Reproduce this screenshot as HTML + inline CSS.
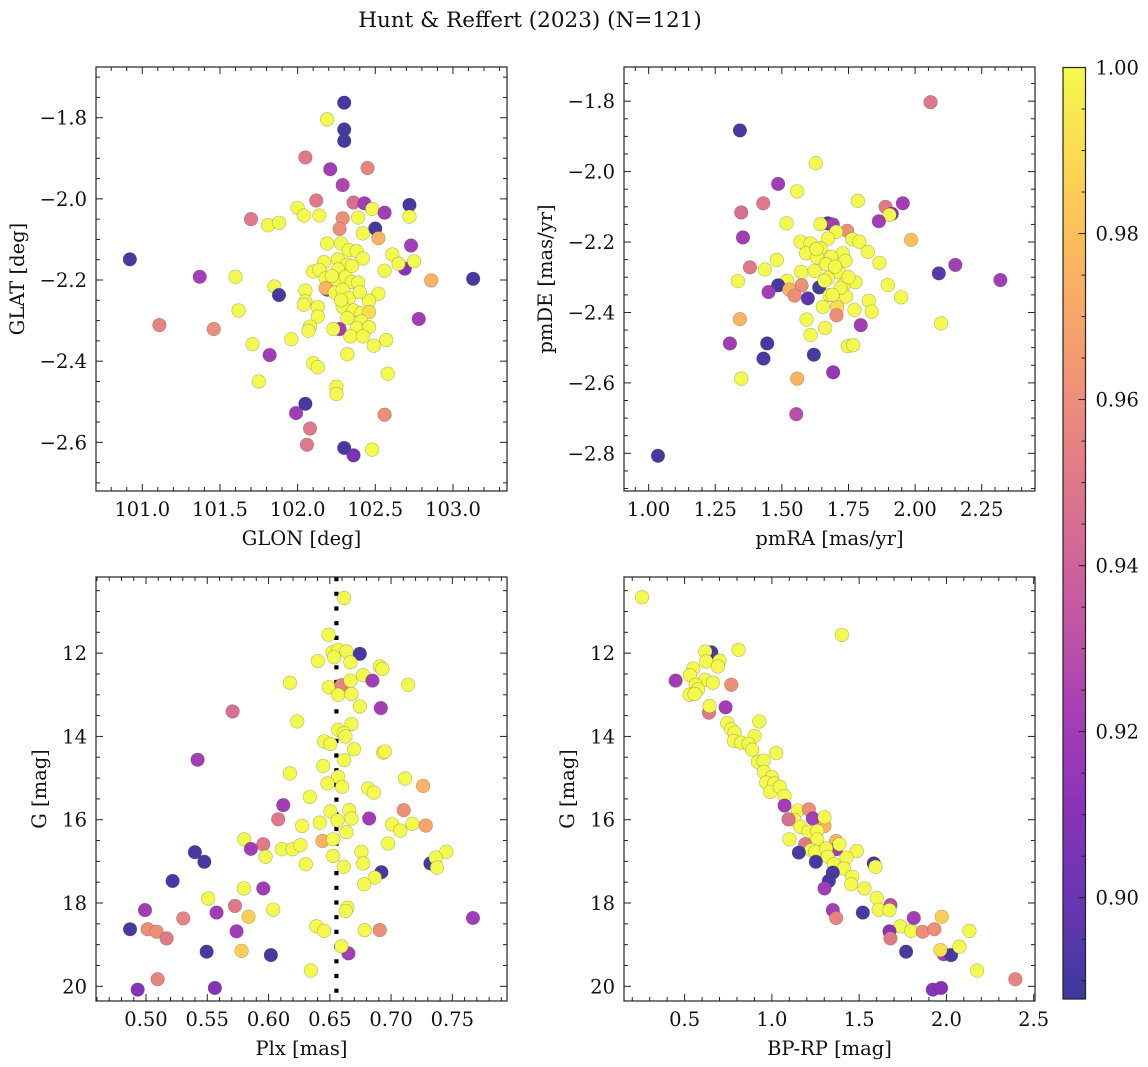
<!DOCTYPE html>
<html><head><meta charset="utf-8"><style>
html,body{margin:0;padding:0;background:#fff;}
svg{display:block;font-family:"DejaVu Serif","Liberation Serif",serif;}
</style></head><body>
<svg id="fig" width="1148" height="1067" viewBox="0 0 1148 1067" xmlns="http://www.w3.org/2000/svg">
<text x="530" y="27" text-anchor="middle" font-size="21.5" fill="#111">Hunt &amp; Reffert (2023) (N=121)</text>
</svg>
<script>
// ---------- Panel 1: GLON vs GLAT ----------
const p1Glon=[102.30,102.19,102.30,102.30,102.05,102.21,102.45,102.29,102.12,102.36,102.43,102.72,102.48,102.56,102.00,102.04,102.14,102.29,102.39,102.72,101.70,101.81,101.88,102.27,102.50,102.42,102.52,102.19,102.28,102.73,100.92,102.33,102.38,102.42,102.26,102.17,102.32,102.61,102.69,102.65,102.75,102.56,102.10,102.14,102.26,101.37,101.60,102.86,103.13,102.18,102.26,102.31,102.35,102.39,102.19,102.18,102.24,102.29,102.05,101.85,101.88,102.52,102.46,102.33,102.05,102.04,102.13,102.29,102.36,102.41,102.46,102.13,101.62,102.32,102.41,102.38,102.46,102.78,101.11,101.46,102.27,102.08,102.07,102.23,102.34,102.42,101.96,102.57,102.49,101.71,101.82,102.32,102.10,102.13,102.58,101.75,102.25,102.25,102.05,101.99,102.56,102.08,102.06,102.30,102.36,102.48,102.35,102.22,102.40,102.28];
const p1Glat=[-1.763,-1.804,-1.829,-1.857,-1.898,-1.927,-1.924,-1.966,-2.004,-2.009,-2.011,-2.015,-2.025,-2.034,-2.022,-2.041,-2.041,-2.048,-2.046,-2.044,-2.050,-2.065,-2.059,-2.074,-2.073,-2.085,-2.097,-2.110,-2.110,-2.115,-2.149,-2.126,-2.129,-2.147,-2.149,-2.156,-2.162,-2.137,-2.172,-2.160,-2.154,-2.177,-2.179,-2.175,-2.174,-2.192,-2.192,-2.201,-2.197,-2.196,-2.200,-2.192,-2.205,-2.206,-2.224,-2.220,-2.231,-2.224,-2.226,-2.216,-2.237,-2.234,-2.251,-2.245,-2.253,-2.261,-2.266,-2.266,-2.275,-2.282,-2.279,-2.290,-2.275,-2.294,-2.302,-2.319,-2.316,-2.296,-2.311,-2.321,-2.321,-2.315,-2.325,-2.321,-2.339,-2.339,-2.346,-2.348,-2.362,-2.358,-2.385,-2.383,-2.405,-2.415,-2.431,-2.450,-2.463,-2.481,-2.505,-2.528,-2.532,-2.566,-2.606,-2.614,-2.632,-2.618,-2.165,-2.190,-2.230,-2.250];
const p1Prob=[0.89,1,0.89,0.89,0.95,0.92,0.955,0.925,0.95,0.945,0.92,0.89,1,0.92,1,1,1,0.96,1,1,0.95,1,1,0.96,0.89,1,0.975,1,1,0.92,0.89,1,1,1,1,1,1,1,0.91,1,1,1,1,1,1,0.92,1,0.975,0.89,1,1,1,1,1,0.92,0.975,1,1,1,1,0.89,1,1,1,1,1,1,1,1,1,0.99,1,1,1,1,1,1,0.92,0.955,0.96,0.92,1,1,1,1,1,1,1,1,1,0.92,1,1,1,1,1,1,1,0.89,0.92,0.96,0.95,0.95,0.89,0.905,1,1,1,1,1];
const p1XTicks=[101.0,101.5,102.0,102.5,103.0];
const p1YTicks=[-1.8,-2.0,-2.2,-2.4,-2.6];

// ---------- Panel 2: pmRA vs pmDE ----------
const p2PmRA=[2.058,1.3425,1.6275,1.486,1.5575,1.43,1.785,1.889,1.954,1.3475,1.9125,1.904,1.864,1.5175,1.6725,1.691,1.645,1.745,1.704,1.354,1.6725,1.985,1.764,1.791,1.57,1.6075,1.645,1.591,1.8225,1.729,1.685,1.6325,1.7388,1.866,1.666,1.481,2.151,1.38,1.436,1.6225,1.5725,1.714,2.089,1.6725,1.735,1.776,2.32,1.335,1.52,1.486,1.5275,1.574,1.64,1.8975,1.45,1.5475,1.5975,1.679,1.741,1.9475,1.8263,1.6538,1.7075,1.7725,1.8375,1.705,1.3425,1.5925,2.0975,1.796,1.6625,1.6075,1.305,1.445,1.7475,1.7675,1.62,1.431,1.6925,1.3475,1.5575,1.554,1.035,1.70,1.66,1.72,1.63,1.69,1.75];
const p2PmDE=[-1.803,-1.883,-1.976,-2.035,-2.056,-2.090,-2.083,-2.100,-2.090,-2.116,-2.120,-2.123,-2.141,-2.147,-2.147,-2.150,-2.149,-2.168,-2.171,-2.187,-2.190,-2.194,-2.192,-2.199,-2.199,-2.204,-2.218,-2.232,-2.228,-2.232,-2.242,-2.244,-2.253,-2.259,-2.263,-2.251,-2.265,-2.272,-2.278,-2.282,-2.285,-2.285,-2.289,-2.303,-2.319,-2.314,-2.308,-2.311,-2.310,-2.323,-2.335,-2.323,-2.329,-2.322,-2.342,-2.352,-2.360,-2.351,-2.355,-2.357,-2.367,-2.384,-2.384,-2.393,-2.398,-2.408,-2.419,-2.420,-2.431,-2.436,-2.444,-2.464,-2.488,-2.488,-2.496,-2.493,-2.520,-2.531,-2.570,-2.588,-2.588,-2.689,-2.807,-2.27,-2.31,-2.33,-2.22,-2.35,-2.30];
const p2Prob=[0.95,0.89,1,0.92,1,0.95,1,0.95,0.92,0.945,0.91,1,0.92,1,0.89,0.92,1,0.96,1,0.92,1,0.98,1,1,1,1,1,1,1,1,1,1,1,1,1,1,0.92,0.95,1,1,1,1,0.895,1,1,1,0.92,1,1,0.89,0.975,0.96,0.89,1,0.92,0.96,0.895,1,1,1,1,1,0.99,1,1,0.96,0.975,1,1,0.92,1,1,0.92,0.89,1,1,0.89,0.89,0.915,1,0.975,0.93,0.89,1,1,1,1,1,1];
const p2XTicks=[1.00,1.25,1.50,1.75,2.00,2.25];
const p2YTicks=[-1.8,-2.0,-2.2,-2.4,-2.6,-2.8];

// ---------- Panel 3: Plx vs G ----------
const p3Plx=[0.6617,0.6489,0.6522,0.6568,0.6636,0.6535,0.6745,0.6402,0.6668,0.6908,0.6929,0.6772,0.6848,0.6174,0.6492,0.6595,0.6668,0.7139,0.6568,0.6677,0.5707,0.6745,0.6916,0.6234,0.6677,0.6568,0.6614,0.6628,0.6454,0.6505,0.6698,0.6935,0.6949,0.5421,0.6617,0.6446,0.6174,0.6568,0.6481,0.6601,0.7114,0.7261,0.6813,0.6859,0.6337,0.6120,0.6505,0.6658,0.6677,0.7103,0.6079,0.6563,0.6821,0.6418,0.6274,0.7008,0.7174,0.7076,0.7283,0.6636,0.5802,0.5957,0.5856,0.6440,0.6527,0.6109,0.6196,0.6261,0.6976,0.5976,0.5399,0.5476,0.6527,0.6758,0.6304,0.6614,0.6772,0.7451,0.7321,0.7364,0.7375,0.6921,0.6867,0.6780,0.5217,0.5957,0.5799,0.5508,0.5726,0.4992,0.5576,0.6038,0.6644,0.6630,0.5837,0.5304,0.7668,0.4870,0.5014,0.5087,0.5168,0.5739,0.6391,0.6454,0.6785,0.6908,0.6652,0.6595,0.5780,0.5495,0.6019,0.6345,0.5095,0.4932,0.5562];
const p3G=[10.677,11.559,11.98,11.92,11.96,12.10,12.016,12.19,12.22,12.32,12.38,12.53,12.66,12.71,12.82,12.77,12.66,12.76,13.00,12.98,13.40,13.28,13.32,13.64,13.70,13.84,13.92,14.00,14.12,14.18,14.31,14.39,14.36,14.56,14.57,14.71,14.89,14.97,15.13,15.21,15.01,15.19,15.25,15.35,15.45,15.65,15.80,15.77,15.97,15.77,15.99,16.02,15.97,16.07,16.15,16.11,16.10,16.26,16.14,16.30,16.47,16.59,16.70,16.51,16.47,16.71,16.71,16.61,16.57,16.89,16.78,17.01,16.87,16.77,17.07,17.13,17.05,16.77,17.05,16.91,17.15,17.26,17.39,17.55,17.47,17.65,17.65,17.89,18.07,18.17,18.23,18.16,18.11,18.19,18.33,18.37,18.36,18.63,18.63,18.69,18.85,18.68,18.56,18.67,18.65,18.65,19.21,19.04,19.15,19.17,19.25,19.62,19.83,20.08,20.04];
const p3Prob=[1,1,1,1,1,1,0.89,1,1,1,1,1,0.92,1,1,0.955,1,1,1,1,0.945,1,0.92,1,1,1,1,1,1,1,1,1,1,0.92,1,1,1,1,1,1,1,0.975,1,1,1,0.92,1,1,1,0.96,0.95,1,0.92,1,1,1,1,1,0.97,1,1,0.95,0.92,0.975,1,1,1,1,1,1,0.89,0.89,1,1,1,1,1,1,0.89,1,1,0.89,1,1,0.89,0.92,1,1,0.95,0.92,0.92,1,1,1,0.985,0.955,0.92,0.89,0.96,0.96,0.95,0.92,1,1,1,0.96,0.92,1,0.985,0.89,0.89,1,0.955,0.91,0.91];
const p3XTicks=[0.50,0.55,0.60,0.65,0.70,0.75];
const p3YTicks=[12,14,16,18,20];
const p3RefPlx=[0.6554];

// ---------- Panel 4: BP-RP vs G ----------
const p4BpRp=[0.2557,1.401,0.6527,0.6183,0.6240,0.7004,0.6908,0.8092,0.5496,0.5305,0.4485,0.6183,0.6622,0.7672,0.5630,0.5763,0.5286,0.5573,0.6393,0.6431,0.7347,0.9275,0.7443,0.7672,0.7863,0.7824,0.9008,0.8244,0.8664,0.8874,1.0248,0.9198,0.9523,0.9542,1.0,0.9676,1.0134,0.9905,1.0458,1.0725,1.0725,1.1489,1.1298,1.2118,1.2347,1.0954,1.3015,1.3015,1.1641,1.2099,1.2595,1.2595,1.1011,1.1908,1.3683,1.3683,1.3874,1.2252,1.2481,1.3110,1.3206,1.4866,1.4275,1.1546,1.2519,1.3550,1.4122,1.5840,1.5935,1.3492,1.3263,1.4599,1.4542,1.3015,1.5305,1.6011,1.6794,1.6126,1.6737,1.3492,1.3683,1.5210,1.7366,1.7977,1.8130,1.6737,1.6794,1.8645,1.9313,1.9733,2.1317,1.7691,1.9847,2.0267,1.9656,2.0744,2.1756,2.3950,1.9218,1.9695];
const p4G=[10.66,11.56,11.98,11.96,12.20,12.18,12.32,11.92,12.37,12.53,12.66,12.64,12.71,12.76,12.76,12.87,13.00,12.98,13.43,13.27,13.30,13.64,13.68,13.83,13.91,14.11,13.99,14.15,14.18,14.32,14.40,14.61,14.58,14.85,14.98,15.11,15.13,15.33,15.21,15.43,15.66,15.78,16.01,15.75,15.97,15.99,16.15,15.94,16.17,16.29,16.27,16.47,16.47,16.59,16.51,16.71,16.59,16.73,16.77,16.69,16.89,16.75,16.91,16.79,17.01,17.07,17.17,17.05,17.13,17.27,17.47,17.37,17.55,17.65,17.65,17.88,18.05,18.16,18.17,18.17,18.36,18.23,18.56,18.67,18.36,18.68,18.85,18.69,18.63,18.33,18.67,19.17,19.23,19.25,19.13,19.05,19.62,19.83,20.08,20.04];
const p4Prob=[1,1,0.89,1,1,1,1,1,1,1,0.92,1,1,0.96,1,1,1,1,0.95,1,0.92,1,1,1,1,1,1,1,1,1,1,1,1,1,1,1,1,1,1,1,0.92,1,1,0.96,0.92,0.945,0.975,1,1,1,1,1,1,0.95,0.975,0.92,1,1,1,1,1,1,1,0.89,0.89,1,1,0.89,1,0.89,0.89,1,1,0.92,1,1,0.93,1,1,0.92,0.955,0.89,1,1,0.92,0.91,0.95,0.96,0.96,0.985,1,0.89,0.92,0.89,0.99,1,1,0.955,0.91,0.91];
const p4XTicks=[0.5,1.0,1.5,2.0,2.5];
const p4YTicks=[12,14,16,18,20];

// ---------- Colorbar ----------
const cbTicks=[0.90,0.92,0.94,0.96,0.98,1.00];
const cbRange=[0.8878,1.0];

const FS=19.5;
const NS="http://www.w3.org/2000/svg";
const svg=document.getElementById('fig');
function mk(tag,attrs,parent){const e=document.createElementNS(NS,tag);for(const k in attrs)e.setAttribute(k,attrs[k]);(parent||svg).appendChild(e);return e;}

const plasma=[[13,8,135],[65,4,157],[106,0,168],[143,13,164],[177,42,144],[204,71,120],[225,100,98],[242,132,75],[252,166,54],[252,206,37],[240,249,33]];
function cmap(p){
  let t=(p-cbRange[0])/(cbRange[1]-cbRange[0]);t=Math.max(0,Math.min(1,t));
  const f=t*10,i=Math.min(9,Math.floor(f)),r=f-i;
  const c=plasma[i].map((v,k)=>v+(plasma[i+1][k]-v)*r);
  const a=0.8;
  return 'rgb('+c.map(v=>Math.round(a*v+(1-a)*255)).join(',')+')';
}
function fmt(v,d){const s=v.toFixed(d);return s.replace('-','\u2212');}

function panel(o){
  const g=mk('g',{});
  
  
  const sx=v=>o.x0+(v-o.xd[0])/(o.xd[1]-o.xd[0])*(o.x1-o.x0);
  const sy=v=>o.y1-(v-o.yd[0])/(o.yd[1]-o.yd[0])*(o.y1-o.y0);
  if(o.vlines){o.vlines.forEach(v=>{
    const l=mk('line',{x1:sx(v),x2:sx(v),y1:o.y0,y2:o.y1,stroke:'#000','stroke-width':4.2,'stroke-dasharray':'4.2 10.5'},g);
    
    
  });}
  for(let i=0;i<o.xs.length;i++){
    const c=mk('circle',{cx:sx(o.xs[i]),cy:sy(o.ys[i]),r:6.8,fill:cmap(o.ps[i]),stroke:'rgba(60,60,30,0.35)','stroke-width':0.6},g);
    
    
  }
  const fr=mk('rect',{x:o.x0,y:o.y0,width:o.x1-o.x0,height:o.y1-o.y0,fill:'none',stroke:'#222','stroke-width':1.2},g);
  
  
  const tk=(x1,y1,x2,y2)=>mk('line',{x1,y1,x2,y2,stroke:'#222','stroke-width':1},g);
  const lo=Math.min(o.xd[0],o.xd[1]),hi=Math.max(o.xd[0],o.xd[1]);
  for(let k=Math.ceil(lo/o.xminor-1e-6);k*o.xminor<=hi+1e-9;k++){
    const v=k*o.xminor,x=sx(v);
    const maj=Math.abs(v/o.xmajor-Math.round(v/o.xmajor))<1e-6;const L=maj?7:4;
    tk(x,o.y1,x,o.y1-L);tk(x,o.y0,x,o.y0+L);
  }
  const ylo=Math.min(o.yd[0],o.yd[1]),yhi=Math.max(o.yd[0],o.yd[1]);
  for(let k=Math.ceil(ylo/o.yminor-1e-6);k*o.yminor<=yhi+1e-9;k++){
    const v=k*o.yminor,y=sy(v);
    const maj=Math.abs(v/o.ymajor-Math.round(v/o.ymajor))<1e-6;const L=maj?7:4;
    tk(o.x0,y,o.x0+L,y);tk(o.x1,y,o.x1-L,y);
  }
  o.xticks.forEach(v=>{
    const t=mk('text',{x:sx(v),y:o.y1+25,'text-anchor':'middle','font-size':FS,fill:'#111'},g);
    t.textContent=fmt(v,o.xdec);
    
    
  });
  o.yticks.forEach(v=>{
    const t=mk('text',{x:o.x0-9,y:sy(v)+7,'text-anchor':'end','font-size':FS,fill:'#111'},g);
    t.textContent=fmt(v,o.ydec);
    
    
  });
  const xl=mk('text',{x:(o.x0+o.x1)/2,y:o.y1+54,'text-anchor':'middle','font-size':FS,fill:'#111'},g);
  xl.textContent=o.xlabel;
  
  
  const yl=mk('text',{x:0,y:0,'text-anchor':'middle','font-size':FS,fill:'#111',transform:'translate('+o.ylx+','+((o.y0+o.y1)/2)+') rotate(-90)'},g);
  yl.textContent=o.ylabel;
  
  
}

panel({name:'glon-glat-panel',x0:96,x1:507,y0:67,y1:491,xd:[100.702,103.348],yd:[-2.720,-1.675],xs:p1Glon,ys:p1Glat,ps:p1Prob,xticks:p1XTicks,yticks:p1YTicks,xdec:1,ydec:1,xminor:0.1,xmajor:0.5,yminor:0.05,ymajor:0.2,xlabel:'GLON [deg]',ylabel:'GLAT [deg]',ylx:24});
panel({name:'proper-motion-panel',x0:624,x1:1035,y0:67,y1:491,xd:[0.9075,2.45],yd:[-2.907,-1.703],xs:p2PmRA,ys:p2PmDE,ps:p2Prob,xticks:p2XTicks,yticks:p2YTicks,xdec:2,ydec:1,xminor:0.05,xmajor:0.25,yminor:0.05,ymajor:0.2,xlabel:'pmRA [mas/yr]',ylabel:'pmDE [mas/yr]',ylx:552});
panel({name:'parallax-magnitude-panel',x0:96,x1:507,y0:577,y1:1001,xd:[0.4592,0.7946],yd:[20.353,10.172],xs:p3Plx,ys:p3G,ps:p3Prob,xticks:p3XTicks,yticks:p3YTicks,xdec:2,ydec:0,xminor:0.01,xmajor:0.05,yminor:0.5,ymajor:2,xlabel:'Plx [mas]',ylabel:'G [mag]',ylx:46,vlines:p3RefPlx});
panel({name:'color-magnitude-panel',x0:624,x1:1035,y0:577,y1:1001,xd:[0.1527,2.5076],yd:[20.353,10.172],xs:p4BpRp,ys:p4G,ps:p4Prob,xticks:p4XTicks,yticks:p4YTicks,xdec:1,ydec:0,xminor:0.1,xmajor:0.5,yminor:0.5,ymajor:2,xlabel:'BP-RP [mag]',ylabel:'G [mag]',ylx:574});

(function(){
  const x0=1063,x1=1085.5,y0=67.5,y1=999;
  const g=mk('g',{});
  
  
  const defs=mk('defs',{},g);
  const lg=mk('linearGradient',{id:'cbg',x1:0,y1:1,x2:0,y2:0},defs);
  for(let i=0;i<=20;i++){const p=cbRange[0]+(cbRange[1]-cbRange[0])*i/20;mk('stop',{offset:(i/20),'stop-color':cmap(p)},lg);}
  const r=mk('rect',{x:x0,y:y0,width:x1-x0,height:y1-y0,fill:'url(#cbg)',stroke:'#222','stroke-width':1.2},g);
  
  
  const sy=v=>y1-(v-cbRange[0])/(cbRange[1]-cbRange[0])*(y1-y0);
  for(let k=Math.ceil(cbRange[0]/0.005-1e-6);k*0.005<=cbRange[1]+1e-9;k++){
    const v=k*0.005,y=sy(v);const maj=Math.abs(v/0.02-Math.round(v/0.02))<1e-6;
    mk('line',{x1:x1,x2:x1-(maj?7:4),y1:y,y2:y,stroke:'#222','stroke-width':1},g);
  }
  cbTicks.forEach(v=>{
    const t=mk('text',{x:x1+10,y:sy(v)+7,'font-size':FS,fill:'#111'},g);
    t.textContent=v.toFixed(2);
    
    
  });
})();
</script>
</body></html>
